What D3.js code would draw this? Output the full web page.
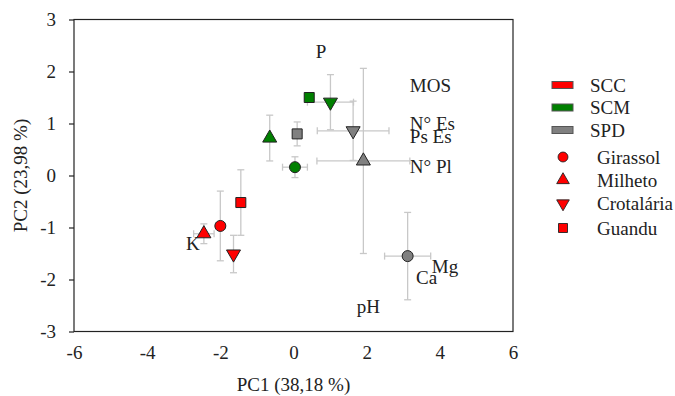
<!DOCTYPE html>
<html>
<head>
<meta charset="utf-8">
<script src="https://cdn.jsdelivr.net/npm/d3@7"></script>
<style>
  body { margin: 0; background: #fff; }
  svg text { font-family: "Liberation Serif", "Times New Roman", serif; fill: #222; }
</style>
</head>
<body>
<div class="container"></div>
<script>
// systems and cover crops
const systems = ['SCC', 'SCM', 'SPD'];
const systemColors = ['#ff0000', '#008000', '#808080'];
const crops = ['Girassol', 'Milheto', 'Crotalária', 'Guandu'];

// one entry per point: system index, crop index, scores and errors
const pointSystem = [0, 0, 0, 0, 1, 1, 1, 1, 2, 2, 2, 2];
const pointCrop = [0, 1, 2, 3, 0, 1, 2, 3, 0, 1, 2, 3];
const pc1 = [-2.00, -2.45, -1.64, -1.44, 0.04, -0.65, 1.01, 0.43, 3.12, 1.91, 1.63, 0.10];
const pc2 = [-0.97, -1.12, -1.51, -0.52, 0.16, 0.72, 1.41, 1.50, -1.55, 0.28, 0.86, 0.80];
const pc1Err = [0.13, 0.28, 0, 0, 0.34, 0, 0.63, 0.12, 0.63, 1.27, 0.98, 0];
const pc2Err = [0.67, 0.19, 0.36, 0.63, 0.20, 0.44, 0.53, 0.08, 0.84, 1.78, 0.57, 0.23];

// variable labels (loadings)
const loadingNames = ['P', 'MOS', 'N° Es', 'Ps Es', 'N° Pl', 'K', 'Mg', 'Ca', 'pH'];
const loadingX = [0.61, 3.18, 3.18, 3.18, 3.18, -2.94, 3.78, 3.35, 1.73];
const loadingY = [2.38, 1.74, 1.01, 0.76, 0.18, -1.30, -1.75, -1.96, -2.51];

const xTicks = [-6, -4, -2, 0, 2, 4, 6];
const yTicks = [-3, -2, -1, 0, 1, 2, 3];

const width = 675;
const height = 396;
const margin = {top: 19.5, right: 162, bottom: 64.5, left: 74};
const serif = '"Liberation Serif", "Times New Roman", serif';

const svg = d3.select('.container').append('svg')
    .attr('width', width)
    .attr('height', height)
    .style('font-family', serif);

const x = d3.scaleLinear().domain([-6, 6]).range([margin.left, width - margin.right]);
const y = d3.scaleLinear().domain([-3, 3]).range([height - margin.bottom, margin.top]);

// frame
svg.append('rect')
    .attr('x', x(-6))
    .attr('y', y(3))
    .attr('width', x(6) - x(-6))
    .attr('height', y(-3) - y(3))
    .attr('fill', 'none')
    .attr('stroke', '#222')
    .attr('stroke-width', 1.2);

// y axis, outward ticks
const yAxis = svg.append('g')
    .attr('transform', `translate(${x(-6)},0)`)
    .call(d3.axisLeft(y).tickValues(yTicks).tickSize(5).tickPadding(13).tickFormat(d => String(d)));
yAxis.attr('font-family', null);
yAxis.select('.domain').remove();
yAxis.selectAll('line').attr('stroke', '#222').attr('stroke-width', 1.2);
yAxis.selectAll('text')
    .style('font-size', '19px')
    .style('font-family', serif)
    .attr('fill', '#222');

// x axis, labels only
const xAxis = svg.append('g')
    .attr('transform', `translate(0,${y(-3)})`)
    .call(d3.axisBottom(x).tickValues(xTicks).tickSize(0).tickPadding(14).tickFormat(d => String(d)));
xAxis.attr('font-family', null);
xAxis.select('.domain').remove();
xAxis.selectAll('text')
    .style('font-size', '19px')
    .style('font-family', serif)
    .attr('fill', '#222');

// axis titles
svg.append('text')
    .attr('x', x(0))
    .attr('y', 391)
    .attr('text-anchor', 'middle')
    .style('font-size', '19px')
    .text('PC1 (38,18 %)');

svg.append('text')
    .attr('transform', `translate(27,${y(0)}) rotate(-90)`)
    .attr('text-anchor', 'middle')
    .style('font-size', '19px')
    .text('PC2 (23,98 %)');

// loading labels
svg.append('g').selectAll('text')
    .data(loadingNames)
    .enter()
    .append('text')
    .attr('x', (d, i) => x(loadingX[i]))
    .attr('y', (d, i) => y(loadingY[i]))
    .attr('dy', '0.35em')
    .style('font-size', '19px')
    .text(d => d);

// error bars
const errColor = '#c8c8c8';
const cap = 3.5;
const bars = svg.append('g')
    .attr('stroke', errColor)
    .attr('stroke-width', 1.3)
    .attr('fill', 'none');

pc1.forEach((px, i) => {
    const cx = x(px), cy = y(pc2[i]);
    if (pc2Err[i] > 0) {
        const y0 = y(pc2[i] - pc2Err[i]), y1 = y(pc2[i] + pc2Err[i]);
        bars.append('line').attr('x1', cx).attr('x2', cx).attr('y1', y0).attr('y2', y1);
        bars.append('line').attr('x1', cx - cap).attr('x2', cx + cap).attr('y1', y0).attr('y2', y0);
        bars.append('line').attr('x1', cx - cap).attr('x2', cx + cap).attr('y1', y1).attr('y2', y1);
    }
    if (pc1Err[i] > 0) {
        const x0 = x(px - pc1Err[i]), x1 = x(px + pc1Err[i]);
        bars.append('line').attr('x1', x0).attr('x2', x1).attr('y1', cy).attr('y2', cy);
        bars.append('line').attr('x1', x0).attr('x2', x0).attr('y1', cy - cap).attr('y2', cy + cap);
        bars.append('line').attr('x1', x1).attr('x2', x1).attr('y1', cy - cap).attr('y2', cy + cap);
    }
});

// markers
const symbolTypes = [d3.symbolCircle, d3.symbolTriangle, d3.symbolTriangle, d3.symbolSquare];
const symbolSizes = [95, 85, 85, 100];
const symbolRotate = [0, 0, 180, 0];
const symbolPath = (c) => d3.symbol().type(symbolTypes[c]).size(symbolSizes[c])();

svg.append('g').selectAll('path')
    .data(pc1)
    .enter()
    .append('path')
    .attr('d', (d, i) => symbolPath(pointCrop[i]))
    .attr('transform', (d, i) => `translate(${x(d)},${y(pc2[i])}) rotate(${symbolRotate[pointCrop[i]]})`)
    .attr('fill', (d, i) => systemColors[pointSystem[i]])
    .attr('stroke', '#222')
    .attr('stroke-width', 1);

// legend: systems
const legend = svg.append('g');
const sysRows = [85, 107.5, 130];
legend.selectAll('.sys')
    .data(systems)
    .enter()
    .append('g')
    .attr('class', 'sys')
    .each(function (d, i) {
        const g = d3.select(this);
        g.append('rect')
            .attr('x', 552).attr('y', sysRows[i] - 3.5)
            .attr('width', 21).attr('height', 7)
            .attr('fill', systemColors[i])
            .attr('stroke', '#555').attr('stroke-width', 1);
        g.append('text')
            .attr('x', 590).attr('y', sysRows[i]).attr('dy', '0.35em')
            .style('font-size', '19px')
            .text(d);
    });

// legend: crops
const cropRows = [157, 180, 203.5, 228];
legend.selectAll('.crop')
    .data(crops)
    .enter()
    .append('g')
    .attr('class', 'crop')
    .each(function (d, i) {
        const g = d3.select(this);
        g.append('path')
            .attr('d', symbolPath(i))
            .attr('transform', `translate(563,${cropRows[i]}) rotate(${symbolRotate[i]}) scale(0.9)`)
            .attr('fill', systemColors[0])
            .attr('stroke', '#222').attr('stroke-width', 1);
        g.append('text')
            .attr('x', 597).attr('y', cropRows[i]).attr('dy', '0.35em')
            .style('font-size', '19px')
            .text(d);
    });
</script>
</body>
</html>
